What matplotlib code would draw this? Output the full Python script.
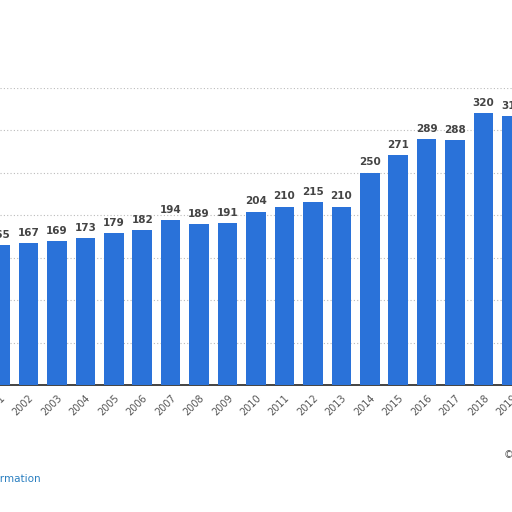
import matplotlib
matplotlib.use("Agg")
import matplotlib.pyplot as plt

years = [str(y) for y in range(2001, 2020)]
values = [165, 167, 169, 173, 179, 182, 194, 189, 191, 204, 210, 215, 210, 250, 271, 289, 288, 320, 316]

fig = plt.figure(figsize=(5.12, 5.12), dpi=100)
step = 28.94
x0 = 21 - step  # pixel center of 2001 bar
left = -x0 / step
right = (512 - x0) / step
ax = fig.add_axes([0, (512 - 385) / 512, 1, 297.5 / 512])
xs = list(range(len(years)))
ax.bar(xs, values, width=0.69, color="#2a72d9", zorder=3)
for x, v in zip(xs, values):
    ax.text(x, v + 6, str(v), ha="center", va="bottom", fontsize=7.5,
            fontweight="bold", color="#444444", zorder=4)
ax.set_xlim(left, right)
ax.set_ylim(0, 350)
ax.set_yticks([50, 100, 150, 200, 250, 300, 350])
ax.yaxis.grid(True, linestyle=(0, (1, 2)), color="#bbbbbb", linewidth=0.8, zorder=0)
ax.tick_params(axis="y", left=False, labelleft=False)
ax.tick_params(axis="x", length=0, pad=6)
ax.set_xticks(xs)
ax.set_xticklabels(years, rotation=45, ha="right", rotation_mode="anchor",
                   fontsize=7, color="#555555")
for s in ["top", "right", "left"]:
    ax.spines[s].set_visible(False)
ax.spines["bottom"].set_color("#222222")
ax.spines["bottom"].set_linewidth(1.2)
fig.text(41 / 512, 1 - 479 / 512, "Additional Information", ha="right", va="center",
         fontsize=7.5, color="#2a7fc0")
fig.text(504 / 512, 1 - 455 / 512, "©", ha="left", va="center", fontsize=7, color="#555555")
fig.savefig("out.png", dpi=100)
